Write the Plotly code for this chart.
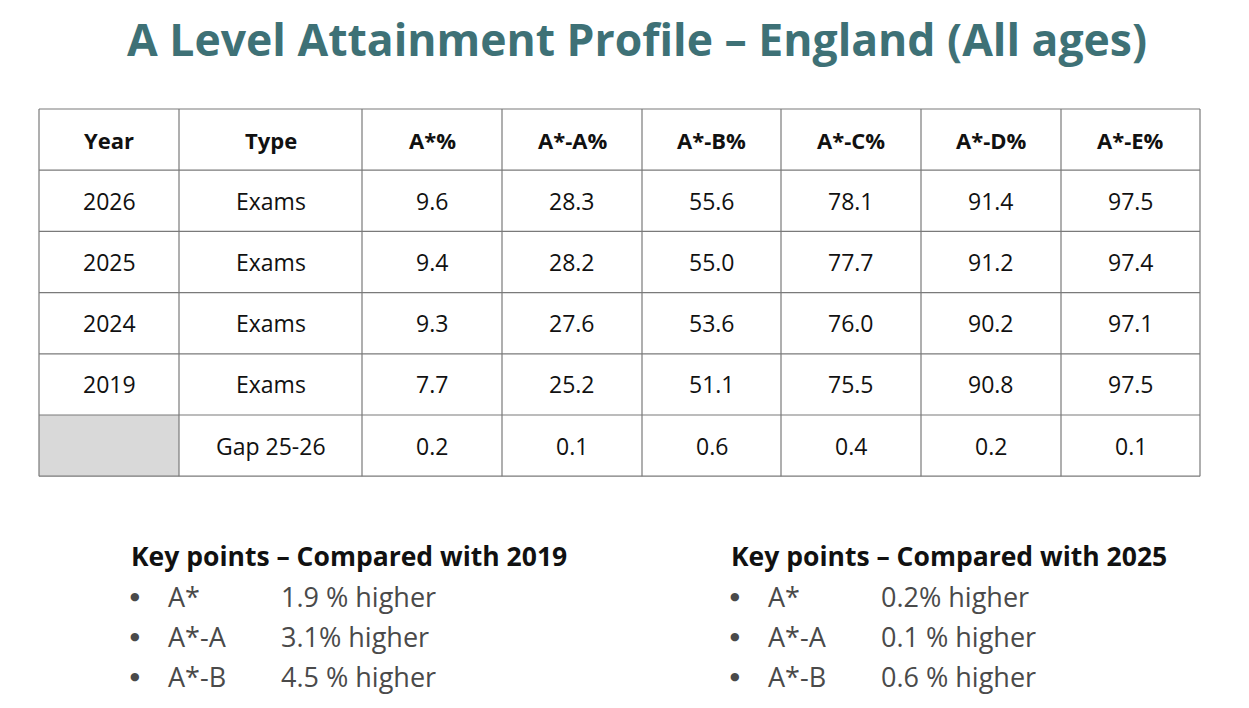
import plotly.graph_objects as go

title = "A Level Attainment Profile – England (All ages)"
headers = ["Year", "Type", "A*%", "A*-A%", "A*-B%", "A*-C%", "A*-D%", "A*-E%"]
years = ["2026", "2025", "2024", "2019", ""]
types = ["Exams", "Exams", "Exams", "Exams", "Gap 25-26"]
a_star = ["9.6", "9.4", "9.3", "7.7", "0.2"]
a_star_a = ["28.3", "28.2", "27.6", "25.2", "0.1"]
a_star_b = ["55.6", "55.0", "53.6", "51.1", "0.6"]
a_star_c = ["78.1", "77.7", "76.0", "75.5", "0.4"]
a_star_d = ["91.4", "91.2", "90.2", "90.8", "0.2"]
a_star_e = ["97.5", "97.4", "97.1", "97.5", "0.1"]

kp_left_title = "Key points – Compared with 2019"
kp_left_labels = ["A*", "A*-A", "A*-B"]
kp_left_values = ["1.9 % higher", "3.1% higher", "4.5 % higher"]
kp_right_title = "Key points – Compared with 2025"
kp_right_labels = ["A*", "A*-A", "A*-B"]
kp_right_values = ["0.2% higher", "0.1 % higher", "0.6 % higher"]

columns = [years, types, a_star, a_star_a, a_star_b, a_star_c, a_star_d, a_star_e]

# layout geometry (pixels)
W, H = 1249, 708
col_edges = [39, 179, 362, 502, 642, 781, 921, 1061, 1200]
row_top = 109
row_h = 61.2
n_rows = 1 + len(years)
line_col = "#7a7a7a"
title_col = "#3e7176"
text_col = "#111111"
grey_text = "#4a4a4a"
font = "Open Sans"

fig = go.Figure()
fig.add_trace(go.Scatter(x=[0, W], y=[0, H], mode="markers",
                         marker=dict(opacity=0), hoverinfo="skip", showlegend=False))

shapes = []
annotations = []

# grey empty cell
shapes.append(dict(type="rect", xref="x", yref="y",
                   x0=col_edges[0], x1=col_edges[1],
                   y0=row_top + (n_rows - 1) * row_h, y1=row_top + n_rows * row_h,
                   fillcolor="#d9d9d9", line=dict(width=0), layer="below"))
# horizontal lines
for r in range(n_rows + 1):
    y = row_top + r * row_h
    shapes.append(dict(type="line", xref="x", yref="y", x0=col_edges[0], x1=col_edges[-1],
                       y0=y, y1=y, line=dict(color=line_col, width=1.2)))
# vertical lines
for x in col_edges:
    shapes.append(dict(type="line", xref="x", yref="y", x0=x, x1=x,
                       y0=row_top, y1=row_top + n_rows * row_h,
                       line=dict(color=line_col, width=1.2)))

# header
for c, h in enumerate(headers):
    annotations.append(dict(x=(col_edges[c] + col_edges[c + 1]) / 2, y=row_top + row_h / 2,
                            text="<b>%s</b>" % h, showarrow=False,
                            font=dict(family=font, size=22, color=text_col)))
# body
for c, col in enumerate(columns):
    for r, v in enumerate(col):
        annotations.append(dict(x=(col_edges[c] + col_edges[c + 1]) / 2,
                                y=row_top + (r + 1.5) * row_h,
                                text=v, showarrow=False,
                                font=dict(family=font, size=23, color=text_col)))

# title
annotations.append(dict(x=637, y=38, text="<b>%s</b>" % title, showarrow=False,
                        font=dict(family=font, size=44.5, color=title_col)))

def key_block(x0, head, labels, values):
    annotations.append(dict(x=x0, y=556, xanchor="left", text="<b>%s</b>" % head,
                            showarrow=False,
                            font=dict(family=font, size=26.5, color=text_col)))
    for i, (lab, val) in enumerate(zip(labels, values)):
        y = 596 + i * 40
        annotations.append(dict(x=x0 + 6, y=y, xanchor="center", text="●", showarrow=False,
                                font=dict(family="DejaVu Sans", size=11, color=grey_text)))
        annotations.append(dict(x=x0 + 37, y=y, xanchor="left", text=lab, showarrow=False,
                                font=dict(family=font, size=27, color=grey_text)))
        annotations.append(dict(x=x0 + 150, y=y, xanchor="left", text=val, showarrow=False,
                                font=dict(family=font, size=27, color=grey_text)))

key_block(129, kp_left_title, kp_left_labels, kp_left_values)
key_block(729, kp_right_title, kp_right_labels, kp_right_values)

fig.update_layout(
    width=W, height=H, margin=dict(l=0, r=0, t=0, b=0),
    paper_bgcolor="white", plot_bgcolor="white",
    xaxis=dict(range=[0, W], visible=False, fixedrange=True),
    yaxis=dict(range=[H, 0], visible=False, fixedrange=True),
    shapes=shapes, annotations=annotations, showlegend=False,
)
fig.write_html("out.html", config={"displayModeBar": False},
               post_script="document.body.style.margin='0';document.body.style.overflow='hidden';")
